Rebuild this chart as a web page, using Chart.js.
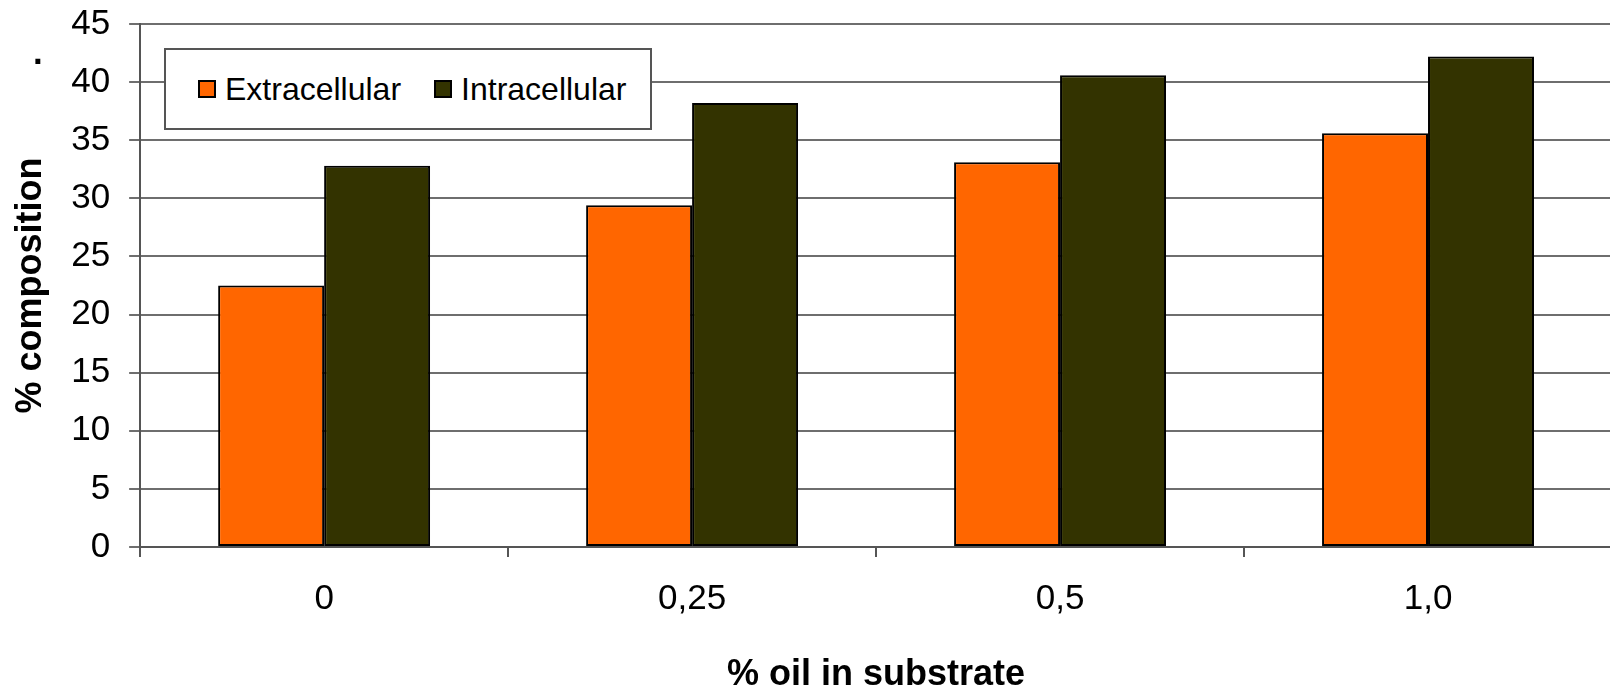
<!DOCTYPE html>
<html>
<head>
<meta charset="utf-8">
<script src="https://cdn.jsdelivr.net/npm/chart.js@4/dist/chart.umd.min.js"></script>
<style>
  html, body { margin: 0; padding: 0; background: #fff; }
  #wrap { position: relative; width: 1610px; height: 689px; overflow: hidden; font-family: "Liberation Sans", Arial, sans-serif; }
  #chart { position: absolute; left: 0; top: -16px; }
  #legend {
    position: absolute; left: 164px; top: 48px; width: 488px; height: 82px;
    box-sizing: border-box; border: 2px solid #555; background: #fff;
    display: flex; align-items: center; padding-left: 32px;
    font-size: 32px; color: #000;
  }
  .item { display: flex; align-items: center; margin-right: 33px; }
  .swatch { width: 18px; height: 18px; box-sizing: border-box; border: 2px solid #000; margin-right: 9px; }
  #dot { position: absolute; left: 33px; top: 34px; font-size: 35px; font-weight: bold; line-height: 35px; }
</style>
</head>
<body>
<div id="wrap">
  <canvas id="chart" width="1612" height="709"></canvas>
  <div id="dot">.</div>
  <div id="legend"></div>
</div>
<script>
// % oil in substrate vs % composition

const categories = ["0", "0,25", "0,5", "1,0"];
const extracellular = [22.5, 29.4, 33.1, 35.6];
const intracellular = [32.8, 38.2, 40.6, 42.2];
const seriesNames = ["Extracellular", "Intracellular"];
const seriesColors = ["#FF6600", "#333300"];

const yMin = 0;
const yMax = 45;
const yStep = 5;

Chart.defaults.font.family = '"Liberation Sans", Arial, sans-serif';
Chart.defaults.color = '#000';

const ctx = document.getElementById('chart').getContext('2d');
const myChart = new Chart(ctx, {
    type: 'bar',
    data: {
        labels: categories,
        datasets: [
            {
                label: seriesNames[0],
                data: extracellular,
                backgroundColor: seriesColors[0],
                borderColor: '#000',
                borderWidth: 2,
                borderSkipped: false,
                categoryPercentage: 0.576,
                barPercentage: 1.0
            },
            {
                label: seriesNames[1],
                data: intracellular,
                backgroundColor: seriesColors[1],
                borderColor: '#000',
                borderWidth: 2,
                borderSkipped: false,
                categoryPercentage: 0.576,
                barPercentage: 1.0
            }
        ]
    },
    options: {
        responsive: false,
        animation: false,
        layout: { padding: { top: 0, left: 0, right: 0, bottom: 0 } },
        plugins: {
            legend: { display: false },
            tooltip: { enabled: false }
        },
        scales: {
            x: {
                grid: { offset: true, drawOnChartArea: false, drawTicks: true, tickLength: 10, color: '#555', lineWidth: 2 },
                border: { color: '#555', width: 2 },
                ticks: { font: { size: 35 }, padding: 21, color: '#000' },
                title: {
                    display: true,
                    text: '% oil in substrate',
                    font: { size: 36, weight: 'bold', lineHeight: 1 },
                    padding: { top: 16, bottom: 0 },
                    color: '#000'
                }
            },
            y: {
                min: yMin,
                max: yMax,
                grid: { color: '#6e6e6e', lineWidth: 2, tickLength: 11 },
                border: { color: '#555', width: 2 },
                ticks: { stepSize: yStep, font: { size: 35 }, padding: 19, color: '#000' },
                title: {
                    display: true,
                    text: '% composition',
                    font: { size: 36, weight: 'bold' },
                    padding: { top: 9, bottom: 0 },
                    color: '#000'
                }
            }
        }
    }
});

// html legend inside the plot
const legendDiv = document.getElementById('legend');
myChart.data.datasets.forEach(ds => {
    let item = document.createElement('div');
    item.className = 'item';
    let sw = document.createElement('span');
    sw.className = 'swatch';
    sw.style.backgroundColor = ds.backgroundColor;
    let txt = document.createElement('span');
    txt.textContent = ds.label;
    item.appendChild(sw);
    item.appendChild(txt);
    legendDiv.appendChild(item);
});
</script>
</body>
</html>
